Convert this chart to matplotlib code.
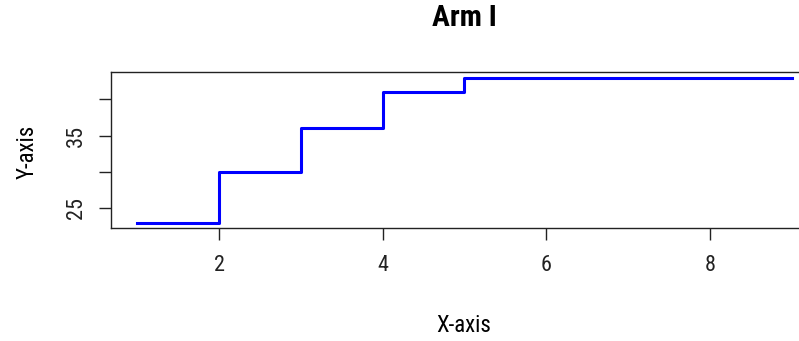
import matplotlib
matplotlib.use("Agg")
import matplotlib.pyplot as plt

x_values = [1, 2, 3, 4, 5, 6, 7, 8, 9]
y_values = [23, 30, 36, 41, 43, 43, 43, 43, 43]
x_ticks = [2, 4, 6, 8]
y_ticks = [25, 30, 35, 40]
y_tick_labels = ["25", "", "35", ""]
title = "Arm I"
xlabel = "X-axis"
ylabel = "Y-axis"

fam = ["Roboto Condensed", "Archivo Narrow", "Liberation Sans", "DejaVu Sans"]
plt.rcParams['font.family'] = fam

fig = plt.figure(figsize=(7.99, 3.41), dpi=100)
ax = fig.add_axes([111/799, 1 - 228.3/341, (818 - 111)/799, (228.3 - 71.9)/341])

ax.step(x_values, y_values, where='post', color='#0000FF', linewidth=2.2)

xr = max(x_values) - min(x_values)
yr = max(y_values) - min(y_values)
ax.set_xlim(min(x_values) - 0.04*xr, max(x_values) + 0.04*xr)
ax.set_ylim(min(y_values) - 0.04*yr, max(y_values) + 0.04*yr)

ax.set_xticks(x_ticks)
ax.set_xticklabels([str(t) for t in x_ticks], fontsize=16)
ax.set_yticks(y_ticks)
ax.set_yticklabels(y_tick_labels, fontsize=16, rotation=90, va='center')
ax.tick_params(axis='both', direction='out', length=8.5, width=1, colors='#222222')
ax.tick_params(axis='x', pad=11)
ax.tick_params(axis='y', pad=9)
for s in ax.spines.values():
    s.set_linewidth(1)
    s.set_color('#222222')

fig.text(464/799, 1 - 18/341, title, ha='center', va='center', fontsize=21.5, fontweight='bold')
fig.text(464/799, 1 - 325/341, xlabel, ha='center', va='center', fontsize=16.5)
fig.text(27/799, 1 - 152/341, ylabel, ha='center', va='center', fontsize=16.5, rotation=90)

fig.savefig("out.png", dpi=100)
